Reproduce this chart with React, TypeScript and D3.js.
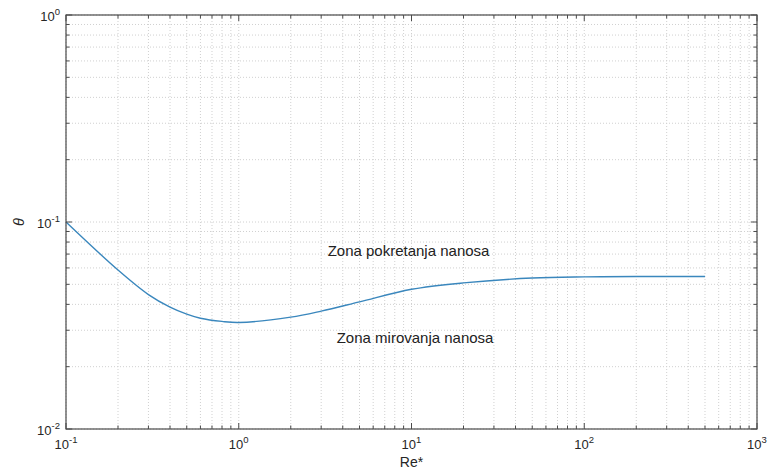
import React from 'react';
import * as d3 from 'd3';

const width = 771, height = 473,
    margin = { top: 15, right: 14, left: 66, bottom: 44 };

// Shields-type threshold curve
const reValues = [0.1, 0.2, 0.3, 0.4, 0.5, 0.6, 0.8, 1, 2, 3, 5, 10, 20, 50, 100, 200, 500];
const thetaValues = [0.1, 0.0586, 0.0446, 0.0388, 0.0359, 0.0343, 0.0331, 0.0327, 0.0347, 0.0371, 0.0411, 0.0473, 0.0508, 0.0536, 0.0543, 0.0545, 0.0545];

const xDecades = [-1, 0, 1, 2, 3];
const yDecades = [-2, -1, 0];

const zoneLabels = ['Zona pokretanja nanosa', 'Zona mirovanja nanosa'];
const zoneRe = [3.27, 3.69];
const zoneTheta = [0.0724, 0.0275];

const font = '"Liberation Sans", Arial, sans-serif';
const axisColor = '#4a4a4a';
const gridColor = '#d0d0d0';

export default function App() {
    const xScale = d3.scaleLog().domain([0.1, 1000]).range([margin.left, width - margin.right]);
    const yScale = d3.scaleLog().domain([0.01, 1]).range([height - margin.bottom, margin.top]);

    const line = d3.line<number>()
        .x((d, i) => xScale(reValues[i]))
        .y(d => yScale(d))
        .curve(d3.curveCatmullRom.alpha(0.5));

    // minor + major tick values
    const xTicks: number[] = [];
    for (let e = -1; e < 3; e++) for (let m = 1; m <= 9; m++) xTicks.push(m * Math.pow(10, e));
    xTicks.push(1000);
    const yTicks: number[] = [];
    for (let e = -2; e < 0; e++) for (let m = 1; m <= 9; m++) yTicks.push(m * Math.pow(10, e));
    yTicks.push(1);

    const isMajor = (v: number) => Math.abs(Math.log10(v) - Math.round(Math.log10(v))) < 1e-9;

    const x0 = margin.left, x1 = width - margin.right;
    const y0 = margin.top, y1 = height - margin.bottom;

    return (
        <svg width={width} height={height} style={{ position: 'absolute', left: 0, top: 0, background: '#fff' }}>
            {/* grid */}
            {xTicks.map((v, i) => (
                <line key={'gx' + i} x1={xScale(v)} x2={xScale(v)} y1={y0} y2={y1}
                    stroke={gridColor} strokeWidth={1} strokeDasharray="1,2" />
            ))}
            {yTicks.map((v, i) => (
                <line key={'gy' + i} x1={x0} x2={x1} y1={yScale(v)} y2={yScale(v)}
                    stroke={gridColor} strokeWidth={1} strokeDasharray="1,2" />
            ))}

            {/* curve */}
            <path d={line(thetaValues) || ''} fill="none" stroke="#3a87bd" strokeWidth={1.4} />

            {/* zone labels */}
            {zoneLabels.map((t, i) => (
                <text key={t} x={xScale(zoneRe[i])} y={yScale(zoneTheta[i])} dy="0.35em"
                    fontFamily={font} fontSize={15} fill="#222">{t}</text>
            ))}

            {/* ticks on all four sides */}
            {xTicks.map((v, i) => {
                const len = isMajor(v) ? 6 : 3.5;
                return (
                    <g key={'tx' + i} stroke={axisColor} strokeWidth={1}>
                        <line x1={xScale(v)} x2={xScale(v)} y1={y1} y2={y1 - len} />
                        <line x1={xScale(v)} x2={xScale(v)} y1={y0} y2={y0 + len} />
                    </g>
                );
            })}
            {yTicks.map((v, i) => {
                const len = isMajor(v) ? 6 : 3.5;
                return (
                    <g key={'ty' + i} stroke={axisColor} strokeWidth={1}>
                        <line x1={x0} x2={x0 + len} y1={yScale(v)} y2={yScale(v)} />
                        <line x1={x1} x2={x1 - len} y1={yScale(v)} y2={yScale(v)} />
                    </g>
                );
            })}

            {/* box */}
            <rect x={x0} y={y0} width={x1 - x0} height={y1 - y0} fill="none" stroke={axisColor} strokeWidth={1.2} />

            {/* tick labels */}
            {xDecades.map(e => (
                <text key={'lx' + e} x={xScale(Math.pow(10, e))} y={y1 + 20} textAnchor="middle"
                    fontFamily={font} fontSize={13} fill="#262626">
                    10<tspan fontSize={9.5} dy={-6}>{e}</tspan>
                </text>
            ))}
            {yDecades.map(e => (
                <text key={'ly' + e} x={x0 - 6} y={yScale(Math.pow(10, e)) + 6} textAnchor="end"
                    fontFamily={font} fontSize={13} fill="#262626">
                    10<tspan fontSize={9.5} dy={-6}>{e}</tspan>
                </text>
            ))}

            {/* axis titles */}
            <text x={(x0 + x1) / 2} y={467} textAnchor="middle" fontFamily={font} fontSize={14} fill="#262626">Re*</text>
            <text transform={`translate(24, ${yScale(0.1)}) rotate(-90)`} textAnchor="middle"
                fontFamily={font} fontStyle="italic" fontSize={14.5} fill="#262626">θ</text>
        </svg>
    );
}
